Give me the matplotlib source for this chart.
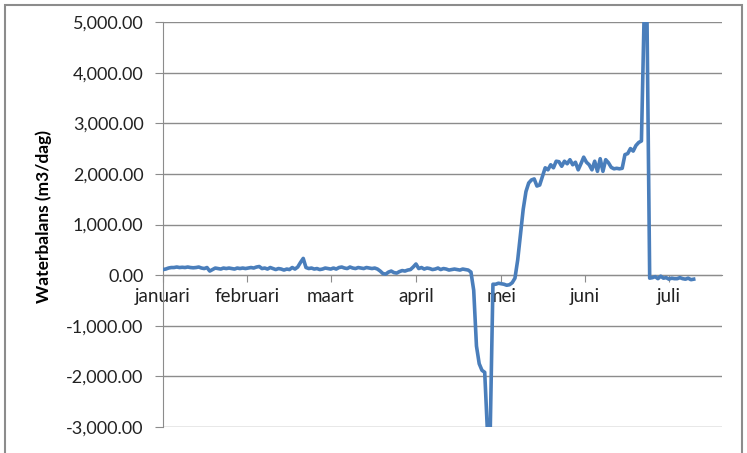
import numpy as np
import matplotlib
matplotlib.use('Agg')
import matplotlib.pyplot as plt
from matplotlib.ticker import FuncFormatter
from matplotlib.patches import Rectangle

# Daily water balance (m3/dag), day 0 = 1 januari
jan = [110, 120, 140, 150, 150, 160, 150, 155, 150, 160, 150, 145, 150, 160, 140, 130,
       150, 80, 110, 140, 130, 120, 140, 130, 140, 130, 120, 140, 130, 140, 130]
feb = [140, 150, 140, 160, 170, 130, 140, 120, 150, 130, 110, 130, 120, 100, 120, 110,
       150, 120, 160, 250, 330, 150, 130, 140, 120, 130, 110, 120, 140, 130]
mrt = [120, 140, 120, 150, 160, 140, 130, 160, 140, 130, 150, 140, 130, 150, 140, 130,
       140, 120, 80, 30, 20, 60, 80, 50, 40, 70, 90, 80, 100, 110, 160]
apr = [220, 130, 150, 120, 140, 130, 110, 120, 140, 110, 130, 120, 100, 110, 120, 110,
       100, 120, 110, 100, 60, -300, -1400, -1750, -1880, -1920, -3100, -3100]
mei = [-180, -180, -160, -170, -180, -200, -190, -150, -60, 300, 800, 1300, 1650, 1820,
       1880, 1900, 1760, 1780, 1950, 2120, 2080, 2180, 2120, 2250, 2240]
jun = [2150, 2250, 2200, 2280, 2180, 2230, 2080, 2200, 2330, 2230, 2180, 2080, 2250, 2050,
       2300, 2050, 2280, 2220, 2130, 2100, 2110, 2100, 2110, 2380, 2400, 2500, 2450, 2560,
       2620, 2650, 5200, 5200]
jul = [-60, -50, -30, -70, -20, -60, -50, -80, -60, -70, -70, -50, -70, -80, -60, -90, -80]

waterbalans = jan + feb + mrt + apr + mei + jun + jul
days = np.arange(len(waterbalans))

months = ['januari', 'februari', 'maart', 'april', 'mei', 'juni', 'juli']
month_pos = [0, 30.5, 61, 92, 123, 153.5, 184]

plt.rcParams['font.family'] = ['Lato', 'DejaVu Sans']

fig = plt.figure(figsize=(7.47, 4.53), dpi=100)
ax = fig.add_axes([163 / 747, 1 - 427 / 453, (722 - 163) / 747, (427 - 22) / 453])

ax.plot(days, waterbalans, color='#4a7ebb', linewidth=2.6, solid_joinstyle='round', zorder=3)

ax.set_xlim(0, 203.3)
ax.set_ylim(-3000, 5000)
ax.set_yticks(np.arange(-3000, 5001, 1000))
ax.yaxis.set_major_formatter(FuncFormatter(lambda v, p: f'{v:,.2f}'))
ax.yaxis.grid(True, color='#8c8c8c', linewidth=1)
ax.set_axisbelow(True)

ax.set_xticks(month_pos)
ax.set_xticklabels(months)
ax.spines['bottom'].set_position(('data', 0))
ax.spines['bottom'].set_color('#8c8c8c')
ax.spines['left'].set_color('#8c8c8c')
ax.spines['top'].set_visible(False)
ax.spines['right'].set_visible(False)

ax.tick_params(axis='y', length=6, color='#8c8c8c', labelsize=13, labelcolor='#222222', pad=8)
ax.tick_params(axis='x', length=5, color='#8c8c8c', labelsize=13.5, labelcolor='#222222', pad=4)

ax.set_ylabel('Waterbalans (m3/dag)', fontsize=12.5, fontweight='bold')
ax.yaxis.set_label_coords(-0.198, 0.52)

# outer frame of the chart object
fig.patches.append(Rectangle((5 / 747, -0.1), 737 / 747, 1.1 - 5 / 453, transform=fig.transFigure,
                             fill=False, edgecolor='#8c8c8c', linewidth=1.5))

fig.savefig('out.png', dpi=100)
